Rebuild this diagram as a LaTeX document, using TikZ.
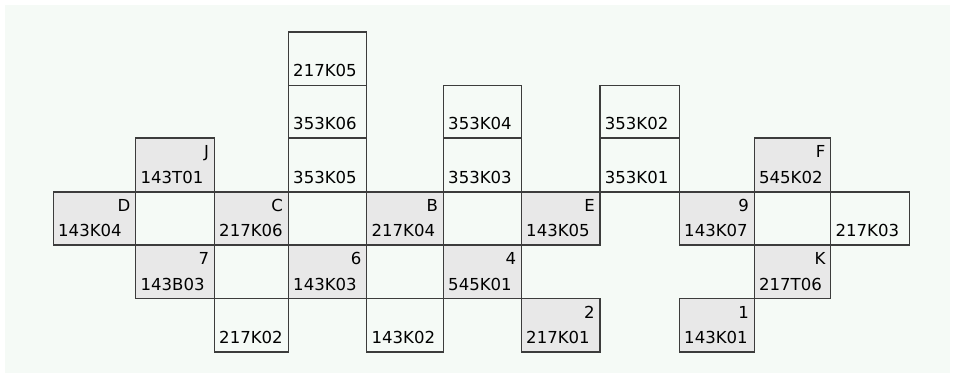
\documentclass[tikz,border=0pt]{standalone}
\usepackage{fontspec}
\setmainfont{DejaVu Sans}
\usetikzlibrary{positioning, fit}
\definecolor{bgmint}{HTML}{F5FAF6}
\definecolor{cellgrey}{HTML}{E8E8E8}
\definecolor{rulegrey}{HTML}{3C3C3C}

\begin{document}
\begin{tikzpicture}[x=0.75pt, y=-0.75pt, every node/.style={font=\fontsize{12.4}{14}\selectfont},
  cell/.style={draw=rulegrey, line width=0.9pt, inner sep=0pt, outer sep=0pt},
  greycell/.style={cell, fill=cellgrey},
  code/.style={inner sep=0pt},
  tag/.style={inner sep=0pt}]

% Background
\fill[white] (0,0) rectangle (955,378);
\fill[bgmint] (5,5) rectangle (950,373);
\useasboundingbox (0,0) rectangle (955,378);

% Upper stacks (white)
\node[cell, fit={(288.3,32) (366.7,85.3)}] (s217K05) {};
\node[cell, fit={(288.3,85.3) (366.7,138)}] (s353K06) {};
\node[cell, fit={(443.3,85.3) (521.3,138)}] (s353K04) {};
\node[cell, fit={(600,85.3) (679.3,138)}] (s353K02) {};
\node[cell, fit={(288.3,138) (366.7,192)}] (s353K05) {};
\node[cell, fit={(443.3,138) (521.3,192)}] (s353K03) {};
\node[cell, fit={(600,138) (679.3,192)}] (s353K01) {};

% Middle row (white)
\node[cell, fit={(135.7,192) (214.3,245)}] (e1) {};
\node[cell, fit={(288.3,192) (366.7,245)}] (e2) {};
\node[cell, fit={(443.3,192) (521.3,245)}] (e3) {};
\node[cell, fit={(754.2,192) (830.7,245)}] (e4) {};
\node[cell, fit={(830.7,192) (909.3,245)}] (s217K03) {};

% Lower rows (white)
\node[cell, fit={(214.3,245) (288.3,298.7)}] (e5) {};
\node[cell, fit={(366.7,245) (443.3,298.7)}] (e6) {};
\node[cell, fit={(214.3,298.7) (288.3,352)}] (s217K02) {};
\node[cell, fit={(366.7,298.7) (443.3,352)}] (s143K02) {};

% Lettered cells (grey)
\node[greycell, fit={(135.7,138) (214.3,192)}] (sJ) {};
\node[greycell, fit={(754.2,138) (830.7,192)}] (sF) {};
\node[greycell, fit={(53.3,192) (135.7,245)}] (sD) {};
\node[greycell, fit={(214.3,192) (288.3,245)}] (sC) {};
\node[greycell, fit={(366.7,192) (443.3,245)}] (sB) {};
\node[greycell, fit={(521.3,192) (600,245)}] (sE) {};
\node[greycell, fit={(679.3,192) (754.2,245)}] (s9) {};
\node[greycell, fit={(135.7,245) (214.3,298.7)}] (s7) {};
\node[greycell, fit={(288.3,245) (366.7,298.7)}] (s6) {};
\node[greycell, fit={(443.3,245) (521.3,298.7)}] (s4) {};
\node[greycell, fit={(754.2,245) (830.7,298.7)}] (sK) {};
\node[greycell, fit={(521.3,298.7) (600,352)}] (s2) {};
\node[greycell, fit={(679.3,298.7) (754.2,352)}] (s1) {};

% Codes
\node[code, above right=6pt and 3.5pt of s217K05.south west] (t217K05) {217K05};
\node[code, above right=6pt and 3.5pt of s353K06.south west] (t353K06) {353K06};
\node[code, above right=6pt and 3.5pt of s353K04.south west] (t353K04) {353K04};
\node[code, above right=6pt and 3.5pt of s353K02.south west] (t353K02) {353K02};
\node[code, above right=6pt and 3.5pt of s353K05.south west] (t353K05) {353K05};
\node[code, above right=6pt and 3.5pt of s353K03.south west] (t353K03) {353K03};
\node[code, above right=6pt and 3.5pt of s353K01.south west] (t353K01) {353K01};
\node[code, above right=6pt and 3.5pt of s217K03.south west] (t217K03) {217K03};
\node[code, above right=6pt and 3.5pt of s217K02.south west] (t217K02) {217K02};
\node[code, above right=6pt and 3.5pt of s143K02.south west] (t143K02) {143K02};
\node[code, above right=6pt and 3.5pt of sJ.south west] (tJ) {143T01};
\node[code, above right=6pt and 3.5pt of sF.south west] (tF) {545K02};
\node[code, above right=6pt and 3.5pt of sD.south west] (tD) {143K04};
\node[code, above right=6pt and 3.5pt of sC.south west] (tC) {217K06};
\node[code, above right=6pt and 3.5pt of sB.south west] (tB) {217K04};
\node[code, above right=6pt and 3.5pt of sE.south west] (tE) {143K05};
\node[code, above right=6pt and 3.5pt of s9.south west] (t9) {143K07};
\node[code, above right=6pt and 3.5pt of s7.south west] (t7) {143B03};
\node[code, above right=6pt and 3.5pt of s6.south west] (t6) {143K03};
\node[code, above right=6pt and 3.5pt of s4.south west] (t4) {545K01};
\node[code, above right=6pt and 3.5pt of sK.south west] (tK) {217T06};
\node[code, above right=6pt and 3.5pt of s2.south west] (t2) {217K01};
\node[code, above right=6pt and 3.5pt of s1.south west] (t1) {143K01};

% Letters
\node[tag, below left=5.3pt and 3.75pt of sJ.north east] (lJ) {J};
\node[tag, below left=5.3pt and 3.75pt of sF.north east] (lF) {F};
\node[tag, below left=5.3pt and 3.75pt of sD.north east] (lD) {D};
\node[tag, below left=5.3pt and 3.75pt of sC.north east] (lC) {C};
\node[tag, below left=5.3pt and 3.75pt of sB.north east] (lB) {B};
\node[tag, below left=5.3pt and 3.75pt of sE.north east] (lE) {E};
\node[tag, below left=5.3pt and 3.75pt of s9.north east] (l9) {9};
\node[tag, below left=5.3pt and 3.75pt of s7.north east] (l7) {7};
\node[tag, below left=5.3pt and 3.75pt of s6.north east] (l6) {6};
\node[tag, below left=5.3pt and 3.75pt of s4.north east] (l4) {4};
\node[tag, below left=5.3pt and 3.75pt of sK.north east] (lK) {K};
\node[tag, below left=5.3pt and 3.75pt of s2.north east] (l2) {2};
\node[tag, below left=5.3pt and 3.75pt of s1.north east] (l1) {1};

\end{tikzpicture}
\end{document}
